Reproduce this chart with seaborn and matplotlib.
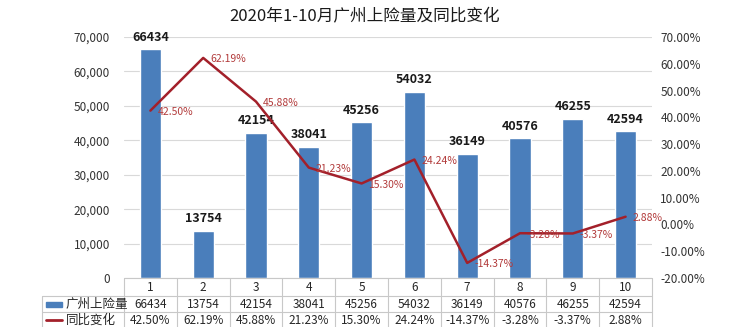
import numpy as np
import pandas as pd
import matplotlib
matplotlib.use("Agg")
import matplotlib.pyplot as plt
import matplotlib.transforms as mtransforms
from matplotlib.lines import Line2D
from matplotlib.patches import Rectangle
import seaborn as sns

categories = ["1", "2", "3", "4", "5", "6", "7", "8", "9", "10"]
volume = [66434, 13754, 42154, 38041, 45256, 54032, 36149, 40576, 46255, 42594]
yoy = [42.50, 62.19, 45.88, 21.23, 15.30, 24.24, -14.37, -3.28, -3.37, 2.88]
series_names = ["广州上险量", "同比变化"]
title = "2020年1-10月广州上险量及同比变化"

sns.set_theme(style="white")
plt.rcParams["font.family"] = ["Noto Sans CJK SC", "DejaVu Sans"]

W, H = 744, 327
fig = plt.figure(figsize=(W / 100, H / 100), dpi=100)
ax = fig.add_axes([124 / W, 1 - 278 / H, (652 - 124) / W, (278 - 37) / H])

bar_color = "#4a7ebb"
line_color = "#a3202a"
label_red = "#b23b3b"
grid_color = "#d9d9d9"
text_color = "#333333"

df = pd.DataFrame({"cat": categories, "vol": volume, "pos": np.arange(len(categories)), "yoy": yoy})
sns.barplot(data=df, x="cat", y="vol", ax=ax, color=bar_color, width=0.4, saturation=1)
ax.set_xlim(-0.5, len(categories) - 0.5)
ax.set_ylim(0, 70000)
ax.set_yticks(np.arange(0, 70001, 10000))
ax.set_yticklabels([f"{v:,}" for v in range(0, 70001, 10000)], fontsize=8.5, color=text_color)
ax.set_xticks([])
ax.set_xlabel("")
ax.set_ylabel("")
ax.grid(axis="y", color=grid_color, linewidth=0.8)
ax.set_axisbelow(True)
for s in ax.spines.values():
    s.set_visible(False)
ax.tick_params(axis="y", length=0, pad=10)

for i, v in enumerate(volume):
    ax.annotate(str(v), (i, v), xytext=(0, 4), textcoords="offset points",
                ha="center", va="bottom", fontsize=9, fontweight="bold", color="#1a1a1a")

ax2 = ax.twinx()
sns.lineplot(data=df, x="pos", y="yoy", ax=ax2, color=line_color, linewidth=1.8)
ax2.set_ylim(-20, 70)
ax2.set_yticks(np.arange(-20, 71, 10))
ax2.set_yticklabels([f"{v:.2f}%" for v in range(-20, 71, 10)], fontsize=8.5, color=text_color)
ax2.set_xlim(-0.5, len(categories) - 0.5)
ax2.set_xlabel("")
ax2.set_ylabel("")
ax2.grid(False)
for s in ax2.spines.values():
    s.set_visible(False)
ax2.tick_params(axis="y", length=0, pad=6)
for i, v in enumerate(yoy):
    ax2.annotate(f"{v:.2f}%", (i, v), xytext=(5, -1), textcoords="offset points",
                 ha="left", va="center", fontsize=7.5, color=label_red)

fig.text(0.49, 1 - 17 / H, title, ha="center", va="center", fontsize=12, color="#1a1a1a")

# data table
tr = mtransforms.blended_transform_factory(ax.transData, fig.transFigure)
tf = fig.transFigure
def fy(y):
    return 1 - y / H
def fx(x):
    return x / W

n = len(categories)
lc = "#c8c8c8"
left_px = 42
rows_y = [278, 296, 312, 329]
fig.add_artist(Line2D([fx(124), fx(652)], [fy(278), fy(278)], color=lc, lw=0.8, transform=tf))
for y in rows_y[1:3]:
    fig.add_artist(Line2D([fx(left_px), fx(652)], [fy(y), fy(y)], color=lc, lw=0.8, transform=tf))
for k in range(n + 1):
    fig.add_artist(Line2D([k - 0.5, k - 0.5], [fy(278), fy(329)], color=lc, lw=0.8, transform=tr))
fig.add_artist(Line2D([fx(left_px), fx(left_px)], [fy(296), fy(329)], color=lc, lw=0.8, transform=tf))

row_c = [287.5, 304.5, 320]
for i, c in enumerate(categories):
    fig.text(i, fy(row_c[0]), c, transform=tr, ha="center", va="center", fontsize=8.5, color="#262626")
    fig.text(i, fy(row_c[1]), str(volume[i]), transform=tr, ha="center", va="center", fontsize=8.5, color="#262626")
    fig.text(i, fy(row_c[2]), f"{yoy[i]:.2f}%", transform=tr, ha="center", va="center", fontsize=8.5, color="#262626")

fig.add_artist(Rectangle((fx(46), fy(307)), fx(16), 5 / H, color=bar_color, transform=tf))
fig.add_artist(Line2D([fx(46), fx(62)], [fy(row_c[2]), fy(row_c[2])], color=line_color, lw=2, transform=tf))
fig.text(fx(66), fy(row_c[1]), series_names[0], ha="left", va="center", fontsize=9, color="#262626")
fig.text(fx(66), fy(row_c[2]), series_names[1], ha="left", va="center", fontsize=9, color="#262626")

fig.savefig("out.png", dpi=100, facecolor="white")
